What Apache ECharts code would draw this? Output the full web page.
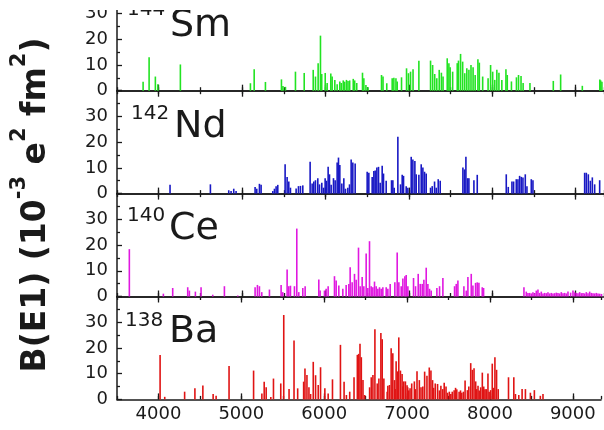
<!DOCTYPE html>
<html><head><meta charset="utf-8">
<script src="https://cdn.jsdelivr.net/npm/echarts@6/dist/echarts.min.js"></script>
<style>html,body{margin:0;padding:0;background:#fff}#c{width:604px;height:430px}</style>
</head><body><div id="c"></div>
<script>
// Panel names (isotope mass, element)
const panelMass = ['144', '142', '140', '138'];
const panelElem = ['Sm', 'Nd', 'Ce', 'Ba'];
const xTickLabels = [4000, 5000, 6000, 7000, 8000, 9000];
const yTickLabels = [0, 10, 20, 30];

// [energy (keV), B(E1) (1e-3 e^2 fm^2)]
const smData = [[3813,3.5],[3885,13],[3960,5.5],[3990,2.5],[4260,10.2],[5100,2.9],[5145,8.3],[5280,3.4],[5472,4.4],[5490,1.8],[5520,1.5],[5640,7.4],[5745,6.9],[5853,8.1],[5880,5.5],[5912,10.7],[5940,21.4],[5955,6.5],[5997,6.9],[6020,3],[6064,6.7],[6080,5.5],[6112,4.2],[6140,2.5],[6172,3.6],[6190,3],[6213,4],[6230,3.5],[6252,4.2],[6270,3.8],[6290,4],[6333,4.6],[6350,4],[6375,3],[6444,7.0],[6460,4.8],[6485,2.2],[6510,1.3],[6672,6.1],[6690,5.5],[6735,2.9],[6800,4.8],[6820,5],[6845,4.8],[6860,3.6],[6912,5.2],[6972,8.7],[6995,6.8],[7020,7.4],[7050,8.3],[7120,11.6],[7260,11.7],[7285,10],[7310,6.5],[7335,4.8],[7364,8.1],[7390,7],[7410,5.5],[7460,12.6],[7480,10.7],[7495,9.1],[7525,7.4],[7580,10.7],[7595,11.7],[7620,14.3],[7645,11.3],[7670,6.8],[7695,8.7],[7720,8.1],[7745,10],[7770,9.1],[7795,6.1],[7828,12.2],[7845,10.9],[7885,5.5],[7950,4.8],[7980,10],[8005,7.4],[8030,4.2],[8055,8.1],[8080,7],[8115,4.2],[8164,8.3],[8180,6.1],[8230,3.6],[8290,5.2],[8315,6.1],[8345,5.7],[8370,3.0],[8452,3.0],[8732,3.8],[8820,6.3],[9080,1.9],[9290,4.4],[9300,4.0],[9315,3.5]];
const ndData = [[4136,3.4],[4620,3.6],[4840,1.3],[4868,1.0],[4900,1.9],[4928,1.0],[5156,2.6],[5176,1.9],[5208,3.8],[5228,3.4],[5368,1.0],[5388,1.9],[5408,2.9],[5428,3.4],[5516,11.4],[5540,6.5],[5560,4.7],[5580,2.3],[5648,2.0],[5676,2.9],[5700,3.0],[5728,3.2],[5816,12.4],[5840,3.9],[5860,4.7],[5880,5.2],[5908,6.0],[5928,3.6],[5956,4.2],[5976,2.3],[5996,6.0],[6012,5.0],[6032,10.4],[6048,7.5],[6068,3.4],[6096,6.0],[6116,5.2],[6140,12.1],[6156,14.0],[6172,11.1],[6196,3.9],[6220,6.0],[6240,1.9],[6268,2.3],[6288,3.6],[6308,13.3],[6328,12.1],[6356,11.7],[6500,8.5],[6520,8.1],[6560,6.5],[6580,8.8],[6596,9.0],[6616,10.1],[6636,10.4],[6656,4.2],[6680,10.8],[6696,7.8],[6728,5.0],[6792,5.2],[6808,5.2],[6824,2.3],[6868,22.1],[6900,3.6],[6920,7.3],[6936,6.9],[6968,2.9],[6988,2.3],[7028,14.3],[7048,13.3],[7072,12.7],[7088,7.5],[7120,7.3],[7148,11.4],[7168,10.1],[7188,8.5],[7208,7.8],[7260,2.3],[7280,2.9],[7308,4.7],[7328,2.3],[7352,5.6],[7376,5.0],[7648,10.1],[7668,9.4],[7684,14.3],[7704,6.0],[7720,6.0],[7780,5.2],[7820,7.3],[8168,7.5],[8192,2.6],[8236,4.7],[8256,4.7],[8288,5.6],[8308,5.6],[8328,6.9],[8348,6.5],[8368,6.3],[8396,7.5],[8416,2.9],[8468,5.6],[8488,5.2],[9108,8.1],[9128,8.1],[9152,7.5],[9176,5.0],[9200,6.3],[9228,3.6],[9288,5.2]];
const ceData = [[3648,18.4],[4056,1.1],[4168,3.3],[4348,3.6],[4368,2.3],[4440,1.9],[4508,3.6],[4648,0.7],[4788,4.0],[4948,0.4],[5156,3.6],[5184,4.5],[5208,4.0],[5236,1.7],[5328,2.7],[5468,4.5],[5488,1.7],[5540,10.5],[5560,4.0],[5580,4.2],[5628,4.0],[5656,26.4],[5680,1.7],[5728,3.3],[5756,4.0],[5920,6.6],[5936,2.3],[5988,2.3],[6008,3.0],[6032,4.0],[6108,7.9],[6128,6.2],[6160,4.3],[6208,3.0],[6248,4.5],[6280,4.9],[6296,11.4],[6320,5.5],[6348,8.8],[6368,6.5],[6396,19.0],[6416,4.0],[6440,7.6],[6460,4.0],[6488,16.7],[6508,3.3],[6528,21.5],[6548,4.0],[6568,3.6],[6588,5.8],[6608,4.0],[6628,3.0],[6648,3.6],[6668,3.0],[6688,3.6],[6728,3.6],[6748,3.0],[6776,4.9],[6832,5.5],[6860,17.1],[6880,5.5],[6908,4.0],[6928,7.0],[6952,7.9],[6968,8.4],[6988,4.0],[7056,7.2],[7080,4.0],[7112,8.8],[7136,4.9],[7160,4.9],[7180,6.5],[7208,11.2],[7228,4.9],[7248,3.0],[7268,2.3],[7336,3.3],[7368,4.0],[7408,7.2],[7548,4.0],[7568,4.9],[7588,6.2],[7660,4.0],[7688,2.3],[7708,7.6],[7748,8.8],[7768,4.3],[7800,5.3],[7820,5.5],[7840,5.3],[7880,3.6],[7896,3.3],[8380,3.6],[8408,1.9],[8428,1.4],[8448,1.4],[8468,1.2],[8488,1.7],[8508,1.3],[8528,2.3],[8548,2.7],[8568,1.4],[8588,1.9],[8608,1.2],[8628,1.4],[8648,1.3],[8668,1.7],[8688,1.2],[8708,1.4],[8728,1.2],[8748,1.3],[8768,1.5],[8788,1.4],[8808,1.2],[8828,1.7],[8848,1.3],[8868,1.4],[8888,1.2],[8908,1.9],[8940,1.5],[8968,2.3],[8988,1.6],[9008,1.4],[9028,1.3],[9048,1.7],[9068,1.3],[9088,1.4],[9108,1.2],[9128,1.7],[9148,1.3],[9168,1.9],[9188,1.4],[9208,1.3],[9228,1.2],[9248,1.4],[9268,1.2],[9288,1.1],[9310,1.0]];
const baData = [[4020,17.3],[4076,1.0],[4316,3.0],[4440,4.3],[4536,5.4],[4660,2.1],[4696,1.4],[4852,13.0],[5148,11.2],[5248,2.3],[5276,6.9],[5300,4.7],[5356,0.9],[5388,8.1],[5476,6.2],[5512,32.8],[5576,4.0],[5636,22.9],[5680,4.3],[5752,6.9],[5768,12.0],[5792,9.5],[5816,4.7],[5836,2.1],[5868,14.6],[5896,9.4],[5928,5.6],[5956,12.5],[6008,4.3],[6048,2.3],[6100,7.8],[6196,21.2],[6240,6.9],[6268,1.7],[6308,3.0],[6360,8.6],[6400,17.3],[6416,17.7],[6432,21.6],[6448,16.4],[6468,7.5],[6488,1.7],[6548,4.7],[6568,8.6],[6588,9.5],[6612,27.3],[6640,6.2],[6660,8.1],[6684,25.8],[6700,23.4],[6720,8.1],[6760,3.0],[6768,5.3],[6788,5.6],[6808,19.9],[6828,17.9],[6848,7.5],[6856,4.0],[6868,14.8],[6888,10.9],[6900,24.1],[6920,11.2],[6940,9.9],[6950,5.0],[6960,7.0],[6980,7.0],[7000,5.5],[7008,4.7],[7020,3.5],[7036,4.3],[7056,6.2],[7088,7.0],[7100,4.0],[7120,10.9],[7148,7.5],[7168,4.7],[7190,5.0],[7212,10.8],[7240,9.2],[7268,12.4],[7288,11.2],[7308,7.5],[7320,4.5],[7340,6.2],[7368,6.0],[7390,3.5],[7408,5.3],[7430,4.0],[7448,6.5],[7470,5.0],[7488,2.6],[7510,3.0],[7528,2.1],[7545,3.0],[7568,3.6],[7585,4.5],[7600,3.9],[7628,3.0],[7645,3.5],[7660,2.6],[7680,3.0],[7700,7.3],[7728,3.6],[7745,5.0],[7768,14.1],[7788,11.5],[7808,12.1],[7828,7.0],[7840,4.0],[7856,5.3],[7870,3.5],[7888,4.7],[7908,10.4],[7925,5.0],[7940,3.9],[7955,4.0],[7976,10.1],[7990,3.0],[8008,3.6],[8028,13.9],[8045,4.5],[8060,16.4],[8080,11.5],[8100,4.0],[8224,8.6],[8288,8.6],[8308,2.1],[8348,1.7],[8388,4.0],[8428,4.0],[8488,2.6],[8536,3.6],[8608,1.4],[8640,2.1]];

const panelData = [smData, ndData, ceData, baData];
const panelColor = ['#22e322', '#1818c4', '#e018e0', '#e01414'];

const FONT = 'DejaVu Sans';
const INK = '#1a1a1a';
const H = 102.9;            // full panel height (0..40)
const PX_PER_UNIT = H / 40;
// top panel is cut by the picture's top edge: it only shows 0..yMax
const zeroY = [90.7, 193.6, 296.5, 399.4];
const XMIN = 3500, XMAX = 9340;

const grids = [], xAxes = [], yAxes = [], series = [];
for (let i = 0; i < 4; i++) {
  const top = i === 0 ? 0 : zeroY[i] - H;
  const height = zeroY[i] - top;
  const yMax = i === 0 ? height / PX_PER_UNIT : 40;
  grids.push({ left: 117, right: 0, top: top, height: height });
  const base = { gridIndex: i, type: 'value', min: XMIN, max: XMAX, splitLine: { show: false } };
  xAxes.push(Object.assign({}, base, {
    position: 'bottom', interval: 500,
    axisLine: { show: true, onZero: false, lineStyle: { color: INK, width: 1.5 } },
    axisTick: { show: true, inside: true, length: 3.5, lineStyle: { color: INK, width: 1.3 } },
    axisLabel: { show: i === 3, fontFamily: FONT, fontSize: 18, color: INK, margin: 6,
      formatter: v => (xTickLabels.indexOf(v) >= 0 ? String(v) : '') }
  }));
  xAxes.push(Object.assign({}, base, {
    position: 'bottom', axisLine: { show: false },
    axisTick: { show: true, inside: true, length: 6, customValues: xTickLabels, lineStyle: { color: INK, width: 1.3 } },
    axisLabel: { show: false }
  }));
  xAxes.push(Object.assign({}, base, {
    position: 'top', interval: 500, show: i > 0,
    axisLine: { show: true, onZero: false, lineStyle: { color: INK, width: 1.5 } },
    axisTick: { show: true, inside: true, length: 3.5, lineStyle: { color: INK, width: 1.3 } },
    axisLabel: { show: false }
  }));
  xAxes.push(Object.assign({}, base, {
    position: 'top', show: i > 0, axisLine: { show: false },
    axisTick: { show: true, inside: true, length: 6, customValues: xTickLabels, lineStyle: { color: INK, width: 1.3 } },
    axisLabel: { show: false }
  }));
  yAxes.push({
    gridIndex: i, type: 'value', min: 0, max: yMax, interval: 10,
    splitLine: { show: false },
    axisLine: { show: true, onZero: false, lineStyle: { color: INK, width: 1.5 } },
    axisTick: { show: true, inside: true, length: 5, lineStyle: { color: INK, width: 1.3 } },
    minorTick: { show: true, splitNumber: 2, length: 3, lineStyle: { color: INK, width: 1.3 } },
    axisLabel: { fontFamily: FONT, fontSize: 18, color: INK, margin: 9, showMaxLabel: false,
      formatter: v => (yTickLabels.indexOf(v) >= 0 ? String(v) : '') }
  });
  series.push({
    type: 'bar', xAxisIndex: i * 4, yAxisIndex: i, data: panelData[i],
    barWidth: 1.6, itemStyle: { color: panelColor[i] }, silent: true
  });
}

// panel labels: positions in pixels
const supPos = [[127, 0], [131, 104], [127, 206], [125, 311]];
const elemPos = [[170, 7], [174, 108], [169, 210], [169, 313]];
const graphics = [];
for (let i = 0; i < 4; i++) {
  graphics.push({ type: 'text', left: supPos[i][0], top: supPos[i][1], z: 100,
    style: { text: panelMass[i], fontFamily: FONT, fontSize: 20, fill: INK } });
  graphics.push({ type: 'text', left: elemPos[i][0], top: elemPos[i][1], z: 100,
    style: { text: panelElem[i], fontFamily: FONT, fontSize: 38, fill: INK } });
}
graphics.push({
  type: 'text', x: 31, y: 205, rotation: Math.PI / 2, z: 100,
  style: {
    text: '{n|B(E1) (10}{s|-3}{n| e}{s|2}{n| fm}{s|2}{n|)}',
    align: 'center', verticalAlign: 'middle', fill: INK,
    rich: {
      n: { fontFamily: FONT, fontWeight: 'bold', fontSize: 33, lineHeight: 43, verticalAlign: 'bottom', fill: INK },
      s: { fontFamily: FONT, fontWeight: 'bold', fontSize: 21, lineHeight: 43, verticalAlign: 'top', fill: INK }
    }
  }
});
// the picture is trimmed at its top edge: a blank strip covers the first rows of the plot column
graphics.push({ type: 'rect', z: 200, shape: { x: 60, y: 0, width: 544, height: 10 }, style: { fill: '#fff' } });

const chart = echarts.init(document.getElementById('c'), null, { renderer: 'canvas' });
chart.setOption({
  animation: false,
  backgroundColor: '#fff',
  grid: grids, xAxis: xAxes, yAxis: yAxes, series: series, graphic: graphics
});
</script></body></html>
